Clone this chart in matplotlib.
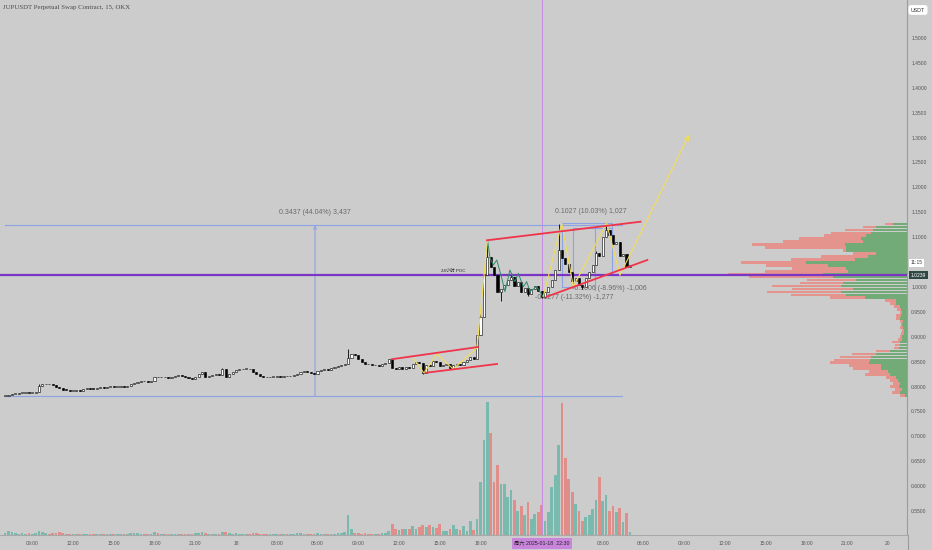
import numpy as np
import pandas as pd
import matplotlib
matplotlib.use('Agg')
import matplotlib.pyplot as plt
import matplotlib.dates as mdates
from matplotlib.ticker import FixedLocator, FuncFormatter

plt.rcParams['font.family'] = ['Liberation Sans', 'Noto Sans CJK SC', 'DejaVu Sans']

# ---- JUPUSDT 15m candles, starting 2025-01-17 07:00 ----
first_open = 0.781
closes = [
    0.782, 0.783, 0.785, 0.786, 0.787, 0.788, 0.788, 0.787, 0.788, 0.789,
    0.802, 0.805, 0.806, 0.805, 0.804, 0.800, 0.797, 0.794, 0.793, 0.792,
    0.792, 0.793, 0.792, 0.795, 0.797, 0.796, 0.795, 0.797, 0.799, 0.798,
    0.799, 0.800, 0.799, 0.800, 0.801, 0.800, 0.802, 0.805, 0.808, 0.810,
    0.812, 0.811, 0.810, 0.812, 0.820, 0.819, 0.820, 0.819, 0.818, 0.820,
    0.822, 0.823, 0.822, 0.820, 0.818, 0.816, 0.820, 0.826, 0.829, 0.820,
    0.822, 0.824, 0.825, 0.824, 0.835, 0.820, 0.826, 0.830, 0.833, 0.835,
    0.836, 0.836, 0.835, 0.830, 0.826, 0.822, 0.820, 0.819, 0.820, 0.820,
    0.821, 0.820, 0.822, 0.821, 0.822, 0.823, 0.826, 0.829, 0.831, 0.830,
    0.828, 0.826, 0.832, 0.834, 0.835, 0.834, 0.837, 0.839, 0.841, 0.843,
    0.845, 0.857, 0.866, 0.864, 0.855, 0.849, 0.846, 0.845, 0.843, 0.844,
    0.842, 0.845, 0.847, 0.855, 0.837, 0.835, 0.839, 0.836, 0.840, 0.838,
    0.846, 0.849, 0.847, 0.828, 0.843, 0.841, 0.852, 0.850, 0.842, 0.843,
    0.845, 0.838, 0.843, 0.846, 0.844, 0.849, 0.853, 0.860, 0.856, 0.904,
    0.940, 1.024, 1.061, 1.041, 1.025, 0.990, 0.996, 1.005, 1.014, 1.020,
    1.002, 1.010, 0.990, 0.998, 0.985, 0.995, 1.002, 0.992, 0.980, 0.990,
    1.000, 1.015, 1.034, 1.074, 1.058, 1.046, 1.030, 1.012, 1.018, 1.004,
    1.000, 1.018, 1.030, 1.045, 1.068, 1.062, 1.100, 1.114, 1.104, 1.086,
    1.090, 1.062, 1.066, 1.040, 1.044,
]
# notable wicks (candle index -> price)
wick_high = {10: 0.806, 64: 0.838, 101: 0.875, 140: 0.945, 142: 1.094,
             149: 1.025, 163: 1.127, 174: 1.072, 177: 1.127}
wick_low = {123: 0.826, 131: 0.835, 146: 0.972, 154: 0.982, 158: 0.977, 170: 0.996}

volumes = [
    2, 4, 3, 2, 1.5, 2, 1.5, 2, 1.5, 2,
    4, 3, 2, 1.5, 2, 2.5, 3, 2, 1.5, 1.5,
    1, 1.5, 1, 1.5, 1, 1.5, 1, 1, 1.5, 1,
    1, 1.5, 1, 1, 1.5, 1, 1.5, 2, 2.5, 2,
    1.5, 1, 1.5, 1, 3, 2, 1.5, 1, 1, 1.5,
    1.5, 1, 1, 1.5, 1.5, 1, 2, 2.5, 3, 2.5,
    1.5, 1, 1.5, 1, 3.5, 3, 2, 1.5, 2, 1.5,
    1, 1.5, 1, 2, 2, 1.5, 1, 1, 1, 1.5,
    1, 1, 1, 1.5, 1, 1.5, 2, 2, 1.5, 1,
    1.5, 1.5, 2, 1.5, 1, 1, 1.5, 1.5, 2, 2,
    3, 20, 6, 2.3, 1.7, 1.5, 2.3, 1, 1, 1,
    1.5, 2, 2, 4.3, 11, 6, 5, 6, 6, 6,
    9, 6, 8, 10, 8.3, 10, 8, 7.3, 11, 4,
    4, 6, 10.3, 6, 5, 9, 4.3, 14, 5.3, 16,
    53, 95, 133, 102, 53, 70, 51, 51, 38, 45,
    35, 24, 29, 20, 33, 16, 21, 23, 30, 14,
    23, 48, 60, 90, 132, 77, 56, 43, 31, 24,
    14, 18, 20, 26, 35, 58, 34, 40, 24, 29,
    23, 27, 13, 22, 3,
]

# ---- visible range volume profile (top row first) ----
prof_top = 1.1265
prof_step = 0.00593
prof_buy = [42, 92, 102, 107, 122, 137, 132, 187, 182, 182,
            92, 117, 157, 304, 237, 182, 177, 252, 222, 154,
            192, 197, 162, 197, 182, 125, 32, 32, 22, 17,
            14, 17, 20, 12, 14, 12, 10, 10, 14, 16,
            22, 22, 24, 52, 92, 109, 112, 115, 77, 77,
            57, 52, 34, 27, 22, 25, 15, 22, 6]
prof_sell = [25, 40, 85, 120, 128, 187, 240, 278, 243, 10,
             70, 140, 190, 195, 185, 162, 248, 285, 252, 146,
             130, 207, 182, 223, 165, 105, 33, 18, 18, 13,
             8, 17, 12, 10, 5, 10, 4, 7, 8, 11,
             22, 13, 16, 40, 72, 93, 108, 115, 97, 85,
             58, 73, 28, 23, 20, 27, 20, 22, 16]

# ---- drawings ----
poc_price = 1.0239
last_price = 1.0239
big_upper = [('2025-01-18 18:29', 1.0938), ('2025-01-19 05:47', 1.1311)]
big_lower = [('2025-01-18 22:52', 0.9805), ('2025-01-19 06:17', 1.0542)]
small_upper = [('2025-01-18 11:29', 0.8550), ('2025-01-18 17:49', 0.8795)]
small_lower = [('2025-01-18 14:02', 0.8280), ('2025-01-18 19:13', 0.8454)]
zig_yellow_a = [('2025-01-18 13:02', 0.8574), ('2025-01-18 13:50', 0.8273),
                ('2025-01-18 14:48', 0.8655), ('2025-01-18 15:59', 0.8353),
                ('2025-01-18 17:44', 0.8775), ('2025-01-18 18:31', 1.0944)]
zig_teal = [('2025-01-18 18:31', 1.0944), ('2025-01-18 18:42', 1.0582),
            ('2025-01-18 18:57', 1.0442), ('2025-01-18 19:12', 1.0542),
            ('2025-01-18 19:34', 1.0175), ('2025-01-18 19:48', 0.9906),
            ('2025-01-18 20:10', 1.0341), ('2025-01-18 20:32', 1.0106),
            ('2025-01-18 20:47', 1.0275), ('2025-01-18 21:09', 1.0006),
            ('2025-01-18 21:24', 1.0106), ('2025-01-18 21:39', 0.9906),
            ('2025-01-18 22:08', 1.0006), ('2025-01-18 22:37', 0.9805)]
zig_yellow_b = [('2025-01-18 22:37', 0.9805), ('2025-01-18 23:59', 1.1279),
                ('2025-01-19 00:50', 1.0006), ('2025-01-19 03:17', 1.1279),
                ('2025-01-19 04:16', 1.0241)]
yellow_arrow_end = ('2025-01-19 09:21', 1.3052)

meas_start, meas_end = '2025-01-17 07:00', '2025-01-19 04:25'
meas_low, meas_high = 0.7804, 1.1241
meas_arrow_time = '2025-01-18 05:49'
# short measurement box edges: (t0, p0, t1, p1)
box_lines = [
    ('2025-01-19 00:00', 1.1280, '2025-01-19 00:00', 1.0003),
    ('2025-01-19 00:00', 1.0003, '2025-01-19 00:55', 1.0003),
    ('2025-01-19 00:49', 1.1185, '2025-01-19 00:49', 1.0003),
    ('2025-01-19 00:49', 1.1185, '2025-01-19 03:41', 1.1185),
    ('2025-01-19 02:28', 1.1185, '2025-01-19 02:28', 0.9940),
    ('2025-01-19 03:41', 1.1280, '2025-01-19 03:41', 1.0261),
    ('2025-01-19 03:41', 1.0261, '2025-01-19 04:50', 1.0261),
    ('2025-01-19 00:00', 1.1280, '2025-01-19 03:41', 1.1280),
]
labels = [
    ('2025-01-18 05:49', 1.1486, '0.3437 (44.04%) 3,437'),
    ('2025-01-19 02:06', 1.1506, '0.1027 (10.03%) 1,027'),
    ('2025-01-19 03:28', 0.9960, '-0.1006 (-8.96%) -1,006'),
    ('2025-01-19 00:54', 0.9780, '-0.1277 (-11.32%) -1,277'),
]
crosshair_time = '2025-01-18 22:30'

price_ticks = [0.55, 0.60, 0.65, 0.70, 0.75, 0.80, 0.85, 0.90, 0.95, 1.00,
               1.05, 1.10, 1.15, 1.20, 1.25, 1.30, 1.35, 1.40, 1.45, 1.50]
# tick labels covered by the countdown / crosshair badges
hidden_price_ticks = [1.05]
hidden_time_ticks = ['2025-01-18 21:00', '2025-01-19 00:00']

bg = '#cccccc'
up_vol, dn_vol = '#79b9ae', '#df8e89'
blue = '#8ea3e4'
yellow = '#f2dd55'
red_line = '#f0344a'


def T(s):
    return mdates.date2num(pd.Timestamp(s))


times = pd.date_range('2025-01-17 07:00', periods=len(closes), freq='15min')
x = mdates.date2num(times)
closes = np.array(closes)
opens = np.concatenate([[first_open], closes[:-1]])
highs = np.maximum(opens, closes)
lows = np.minimum(opens, closes)
for k, v in wick_high.items():
    highs[k] = v
for k, v in wick_low.items():
    lows[k] = v
up = closes >= opens

fig = plt.figure(figsize=(9.32, 5.5), dpi=100)
fig.patch.set_facecolor(bg)
rect = [0, 15 / 550, 907 / 932, 535 / 550]
axv = fig.add_axes(rect)
axp = fig.add_axes(rect)
ax = fig.add_axes(rect)

xlim = (T('2025-01-17 06:37:30'), T('2025-01-20 01:24'))
ylim = (0.502, 1.5763)

# volume
bar_w = 0.8 / 96
axv.bar(x, volumes, width=bar_w, color=np.where(up, up_vol, dn_vol), linewidth=0)
axv.set_xlim(xlim)
axv.set_ylim(0, 535)
axv.set_axis_off()

# volume profile
centers = prof_top - prof_step * np.arange(len(prof_buy))
axp.barh(centers, prof_buy, height=prof_step * 0.9, color='#72ab78', linewidth=0)
axp.barh(centers, prof_sell, left=prof_buy, height=prof_step * 0.9,
         color='#e5938d', linewidth=0)
axp.set_xlim(2721, 0)
axp.set_ylim(ylim)
axp.set_axis_off()

# price axes
ax.set_facecolor('none')
ax.set_xlim(xlim)
ax.set_ylim(ylim)

ax.axhline(poc_price, color='#7a35c4', lw=1.6, zorder=2)
ax.axvline(T(crosshair_time), color='#c98ae6', lw=0.7, zorder=1)

# measurement
ax.plot([T(meas_start), T(meas_end)], [meas_high, meas_high], color=blue, lw=0.8, zorder=1)
ax.plot([T(meas_start), T(meas_end)], [meas_low, meas_low], color=blue, lw=0.8, zorder=1)
ax.annotate('', xy=(T(meas_arrow_time), meas_high), xytext=(T(meas_arrow_time), meas_low),
            arrowprops=dict(arrowstyle='->', color=blue, lw=0.8, mutation_scale=5,
                            shrinkA=0, shrinkB=0), zorder=1)
for t0, p0, t1, p1 in box_lines:
    ax.plot([T(t0), T(t1)], [p0, p1], color=blue, lw=0.8, zorder=1)
for t, p, s in labels:
    ax.text(T(t), p, s, ha='center', va='center', fontsize=5, color='#6a6a6a', zorder=1)

# candles
body_w = 0.62 / 96
ax.vlines(x, lows, highs, color='black', lw=0.6, zorder=3)
ax.bar(x, np.maximum(np.abs(closes - opens), 0.0012), bottom=np.minimum(opens, closes),
       width=body_w, color=np.where(up, 'white', 'black'), edgecolor='black',
       linewidth=0.4, zorder=4)


# zigzags and channels
def pts(lst):
    return [T(t) for t, _ in lst], [p for _, p in lst]


ax.plot(*pts(zig_teal), color='#2f8a6a', lw=0.7, zorder=5)
ax.plot(*pts(zig_yellow_a), color=yellow, lw=0.8, zorder=5)
ax.plot(*pts(zig_yellow_b), color=yellow, lw=0.8, zorder=5)
ax.annotate('', xy=(T(yellow_arrow_end[0]), yellow_arrow_end[1]),
            xytext=(T(zig_yellow_b[-1][0]), zig_yellow_b[-1][1]),
            arrowprops=dict(arrowstyle='->', color=yellow, lw=0.8, mutation_scale=8,
                            shrinkA=0, shrinkB=0), zorder=5)
for line in (big_upper, big_lower, small_upper, small_lower):
    ax.plot(*pts(line), color=red_line, lw=1.3, zorder=6)

ax.text(T('2025-01-18 16:00'), poc_price + 0.009, '24小时 POC', ha='center', va='center',
        fontsize=3.2, color='#222222', zorder=6)

# axes styling
for s in ('top', 'left'):
    ax.spines[s].set_visible(False)
ax.spines['right'].set_color('#9c9c9c')
ax.spines['right'].set_linewidth(0.8)
ax.spines['bottom'].set_color('#a8a8a8')
ax.spines['bottom'].set_linewidth(0.8)
ax.yaxis.tick_right()
ax.yaxis.set_major_locator(FixedLocator(price_ticks))
ax.yaxis.set_major_formatter(FuncFormatter(
    lambda v, pos: '' if any(abs(v - h) < 1e-6 for h in hidden_price_ticks) else f'{v:.4f}'))
xticks = mdates.date2num(pd.date_range('2025-01-17 09:00', '2025-01-20 00:00', freq='3h'))
ax.xaxis.set_major_locator(FixedLocator(xticks))
hidden_x = [T(s) for s in hidden_time_ticks]


def fmt_x(v, pos):
    if any(abs(v - h) < 1e-6 for h in hidden_x):
        return ''
    d = mdates.num2date(v)
    return str(d.day) if d.hour == 0 else d.strftime('%H:%M')


ax.xaxis.set_major_formatter(FuncFormatter(fmt_x))
ax.tick_params(axis='y', length=0, pad=3, labelsize=3.6, labelcolor='#555555')
ax.tick_params(axis='x', length=0, pad=4, labelsize=3.6, labelcolor='#555555')

# right axis labels
ytr = ax.get_yaxis_transform()
ax.text(1.004, 1.0482, '11:15', transform=ytr, ha='left', va='center', fontsize=3.4,
        color='#333333', bbox=dict(boxstyle='square,pad=0.3', fc='white', ec='none'))
ax.text(1.004, last_price, f'{last_price:.4f}', transform=ytr, ha='left', va='center',
        fontsize=3.6, color='white',
        bbox=dict(boxstyle='square,pad=0.35', fc='#2e4844', ec='none'))
fig.text(918 / 932, 1 - 10 / 550, 'USDT', ha='center', va='center', fontsize=3.8,
         color='#333333', bbox=dict(boxstyle='round,pad=0.45', fc='white', ec='none'))
fig.text(3 / 932, 1 - 8 / 550, 'JUPUSDT Perpetual Swap Contract, 15, OKX', ha='left',
         va='center', fontsize=4.9, color='#4a4a4a', family='Liberation Serif')
fig.text(542 / 932, 6.5 / 550, '周六 2025-01-18  22:30', ha='center', va='center',
         fontsize=3.8, color='#222222',
         bbox=dict(boxstyle='square,pad=0.5', fc='#c985db', ec='none'))
fig.add_artist(plt.Line2D([907.5 / 932, 907.5 / 932], [0, 15 / 550], color='#9c9c9c', lw=0.8))

fig.savefig('out.png', dpi=100, facecolor=bg)
